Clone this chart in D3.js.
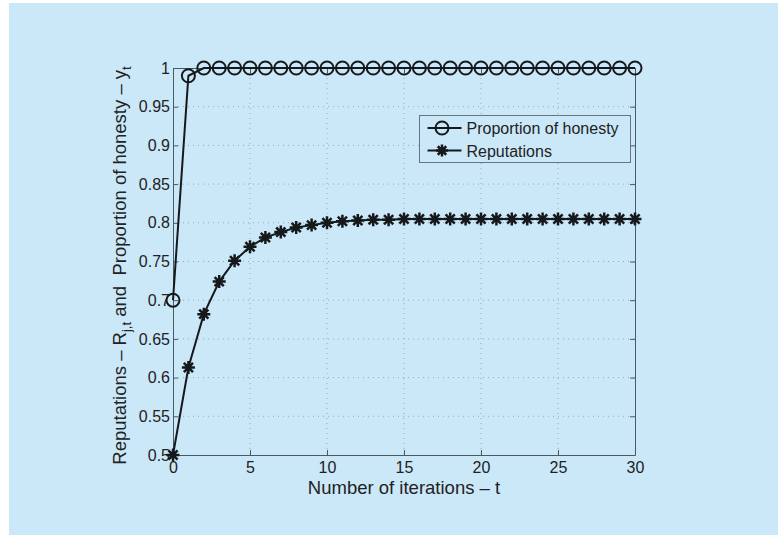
<!DOCTYPE html>
<html>
<head>
<meta charset="utf-8">
<script src="https://cdn.jsdelivr.net/npm/d3@7"></script>
<style>
  body { margin: 0; background: #fff; }
  svg { display: block; }
  text { font-family: "Liberation Sans", Arial, sans-serif; fill: #222; }
</style>
</head>
<body>
<div id="chart"></div>
<script>
// data
const iterations = d3.range(0, 31);
const honesty = [0.70, 0.99, 1, 1, 1, 1, 1, 1, 1, 1, 1, 1, 1, 1, 1, 1, 1, 1, 1, 1, 1, 1, 1, 1, 1, 1, 1, 1, 1, 1, 1];
const reputations = [0.500, 0.613, 0.682, 0.724, 0.751, 0.769, 0.781, 0.788, 0.794, 0.797, 0.800, 0.802, 0.803, 0.804, 0.804, 0.805,
                     0.805, 0.805, 0.805, 0.805, 0.805, 0.805, 0.805, 0.805, 0.805, 0.805, 0.805, 0.805, 0.805, 0.805, 0.805];
const xTicks = [0, 5, 10, 15, 20, 25, 30];
const yTicks = [0.5, 0.55, 0.6, 0.65, 0.7, 0.75, 0.8, 0.85, 0.9, 0.95, 1];
const seriesNames = ["Proportion of honesty", "Reputations"];

const W = 778, H = 535;
const margin = { left: 173, right: 143, top: 68, bottom: 80 };
const width = W - margin.left - margin.right,
      height = H - margin.top - margin.bottom;

const svg = d3.select("#chart").append("svg")
    .attr("width", W)
    .attr("height", H);

// panel background
svg.append("rect")
    .attr("x", 9).attr("y", 3)
    .attr("width", W - 9).attr("height", H - 3)
    .attr("fill", "#cbe8f9");

const g = svg.append("g")
    .attr("transform", `translate(${margin.left},${margin.top})`);

const x = d3.scaleLinear().domain([0, 30]).range([0, width]);
const y = d3.scaleLinear().domain([0.5, 1]).range([height, 0]);

// dotted grid
const gridColor = "#93aab2";
g.append("g").selectAll("line")
    .data(xTicks.slice(1, -1))
    .enter().append("line")
    .attr("x1", d => x(d)).attr("x2", d => x(d))
    .attr("y1", 0).attr("y2", height)
    .attr("stroke", gridColor).attr("stroke-width", 1)
    .attr("stroke-dasharray", "1,4");
g.append("g").selectAll("line")
    .data(yTicks.slice(1, -1))
    .enter().append("line")
    .attr("x1", 0).attr("x2", width)
    .attr("y1", d => y(d)).attr("y2", d => y(d))
    .attr("stroke", gridColor).attr("stroke-width", 1)
    .attr("stroke-dasharray", "1,4");

// axes, ticks inward, box all round
const axisColor = "#4a5a62";
function styleAxis(sel) {
    sel.select(".domain").attr("stroke", axisColor);
    sel.selectAll(".tick line").attr("stroke", axisColor);
    sel.selectAll(".tick text")
        .style("font-size", "16px")
        .attr("fill", "#222");
}
g.append("g")
    .attr("transform", `translate(0,${height})`)
    .call(d3.axisBottom(x).tickValues(xTicks).tickSizeInner(-5).tickSizeOuter(0).tickPadding(7))
    .call(styleAxis);
g.append("g")
    .call(d3.axisLeft(y).tickValues(yTicks).tickFormat(d3.format("")).tickSizeInner(-5).tickSizeOuter(0).tickPadding(3))
    .call(styleAxis);
g.append("g")
    .call(d3.axisTop(x).tickValues(xTicks).tickSizeInner(-5).tickSizeOuter(0).tickFormat(""))
    .call(styleAxis);
g.append("g")
    .attr("transform", `translate(${width},0)`)
    .call(d3.axisRight(y).tickValues(yTicks).tickSizeInner(-5).tickSizeOuter(0).tickFormat(""))
    .call(styleAxis);

// lines
const ink = "#15191c";
const line = d3.line().x((d, i) => x(iterations[i])).y(d => y(d));
g.append("path").datum(reputations)
    .attr("d", line).attr("fill", "none")
    .attr("stroke", ink).attr("stroke-width", 2);
g.append("path").datum(honesty)
    .attr("d", line).attr("fill", "none")
    .attr("stroke", ink).attr("stroke-width", 2);

// markers
function starPath(r) {
    const p = [];
    for (let k = 0; k < 4; k++) {
        const a = k * Math.PI / 4;
        const dx = r * Math.cos(a), dy = r * Math.sin(a);
        p.push(`M${-dx},${-dy}L${dx},${dy}`);
    }
    return p.join("");
}
g.append("g").selectAll("path")
    .data(reputations)
    .enter().append("path")
    .attr("transform", (d, i) => `translate(${x(iterations[i])},${y(d)})`)
    .attr("d", starPath(6.5))
    .attr("stroke", ink).attr("stroke-width", 2.5).attr("fill", "none");
g.append("g").selectAll("circle")
    .data(honesty)
    .enter().append("circle")
    .attr("cx", (d, i) => x(iterations[i]))
    .attr("cy", d => y(d))
    .attr("r", 6.5)
    .attr("fill", "none")
    .attr("stroke", ink).attr("stroke-width", 2);

// legend
const leg = svg.append("g").attr("transform", "translate(419.5,115.5)");
leg.append("rect")
    .attr("width", 211).attr("height", 47)
    .attr("fill", "#cbe8f9")
    .attr("stroke", "#66767e").attr("stroke-width", 1);
seriesNames.forEach((name, i) => {
    const cy = 12.5 + i * 22.5;
    leg.append("line")
        .attr("x1", 8).attr("x2", 42).attr("y1", cy).attr("y2", cy)
        .attr("stroke", ink).attr("stroke-width", 2);
    if (i === 0) {
        leg.append("circle").attr("cx", 22.5).attr("cy", cy).attr("r", 6.5)
            .attr("fill", "none").attr("stroke", ink).attr("stroke-width", 2);
    } else {
        leg.append("path").attr("transform", `translate(22.5,${cy})`)
            .attr("d", starPath(6))
            .attr("stroke", ink).attr("stroke-width", 2.5);
    }
    leg.append("text")
        .attr("x", 47).attr("y", cy + 6)
        .style("font-size", "16px")
        .text(name);
});

// axis titles
svg.append("text")
    .attr("x", margin.left + width / 2)
    .attr("y", 494)
    .attr("text-anchor", "middle")
    .style("font-size", "18.5px")
    .text("Number of iterations \u2013 t");

const yl = svg.append("text")
    .attr("transform", `translate(126,${margin.top + height / 2 + 4}) rotate(-90)`)
    .attr("text-anchor", "middle")
    .style("font-size", "18.5px");
yl.append("tspan").text("Reputations \u2013 R");
yl.append("tspan").attr("dy", 5).style("font-size", "13px").text("j,t");
yl.append("tspan").attr("dy", -5).text("\u00a0and\u00a0\u00a0Proportion of honesty \u2013 y");
yl.append("tspan").attr("dy", 5).style("font-size", "13px").text("t");
</script>
</body>
</html>
